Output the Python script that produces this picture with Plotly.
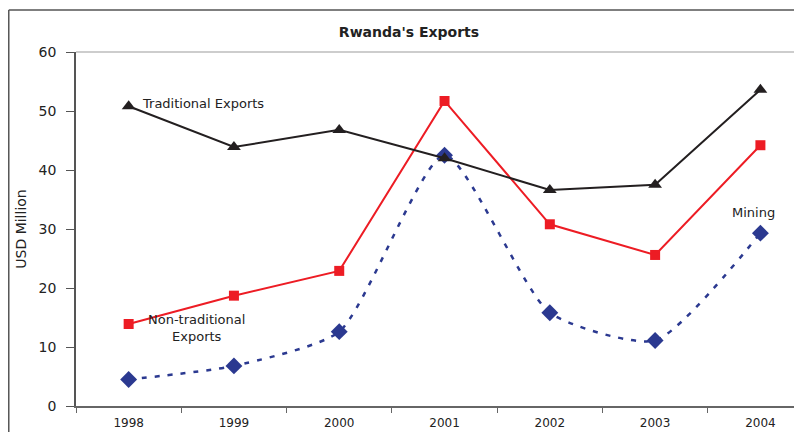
import plotly.graph_objects as go

years = ["1998", "1999", "2000", "2001", "2002", "2003", "2004"]
traditional = [50.8, 43.9, 46.8, 42.0, 36.6, 37.5, 53.6]
non_traditional = [13.9, 18.7, 22.9, 51.7, 30.8, 25.6, 44.2]
mining = [4.5, 6.8, 12.6, 42.5, 15.8, 11.1, 29.3]
y_ticks = [0, 10, 20, 30, 40, 50, 60]

FONT = "Liberation Sans, Arial, sans-serif"
WIDE = "DejaVu Sans, sans-serif"

fig = go.Figure()
fig.add_trace(go.Scatter(
    x=years, y=mining, mode="lines+markers", name="Mining",
    line=dict(color="#2B3990", width=2.5, dash="5px,8px", shape="spline", smoothing=0.6),
    marker=dict(symbol="diamond", size=13, color="#2B3990"),
))
fig.add_trace(go.Scatter(
    x=years, y=non_traditional, mode="lines+markers", name="Non-traditional Exports",
    line=dict(color="#ED1C24", width=2),
    marker=dict(symbol="square", size=10, color="#ED1C24"),
))
fig.add_trace(go.Scatter(
    x=years, y=traditional, mode="lines+markers", name="Traditional Exports",
    line=dict(color="#231F20", width=2),
    marker=dict(symbol="triangle-up", size=12, color="#231F20"),
))

fig.update_layout(
    width=802, height=432,
    margin=dict(l=68, r=8, t=44, b=34, autoexpand=False),
    paper_bgcolor="white", plot_bgcolor="white",
    showlegend=False,
    font=dict(family=FONT, color="#222"),
    title=dict(text="<b>Rwanda's Exports</b>", x=0.5, xanchor="center",
               y=0.945, yanchor="middle", automargin=False,
               font=dict(size=14, family=WIDE, color="#222")),
    xaxis=dict(
        type="category", range=[-0.5, 6.395], automargin=False,
        tickson="boundaries", ticks="outside", ticklen=5, tickcolor="#666",
        ticklabelstandoff=5,
        showline=True, linecolor="#666", linewidth=1.5,
        showgrid=False, zeroline=False,
        tickfont=dict(size=12, family=WIDE, color="#222"),
    ),
    yaxis=dict(
        range=[0, 60], tickvals=y_ticks, ticks="outside", ticklen=8, tickcolor="#555",
        ticklabelstandoff=7,
        showline=True, linecolor="#555", linewidth=1.5, automargin=False,
        showgrid=False, zeroline=False,
        tickfont=dict(size=14, family=WIDE, color="#222"),
        title=dict(text="USD Million", font=dict(size=14, family=WIDE, color="#222"), standoff=9),
    ),
    shapes=[
        dict(type="line", xref="paper", yref="paper", x0=0, x1=1.0, y0=1, y1=1,
             line=dict(color="#BDBDBD", width=1.5)),
        dict(type="line", xref="paper", yref="paper", x0=-0.0926, x1=1.0, y0=1.1186, y1=1.1186,
             line=dict(color="#555", width=1.5)),
        dict(type="line", xref="paper", yref="paper", x0=-0.0926, x1=-0.0926, y0=1.1186, y1=-0.2,
             line=dict(color="#555", width=1.5)),
    ],
    annotations=[
        dict(text="Traditional Exports", x=0.11, y=51.3, xref="x", yref="y",
             xanchor="left", yanchor="middle", showarrow=False,
             font=dict(size=13, family=WIDE, color="#222")),
        dict(text="Non-traditional<br>Exports", x=0.64, y=13.2, xref="x", yref="y",
             xanchor="center", yanchor="middle", showarrow=False,
             font=dict(size=13, family=WIDE, color="#222")),
        dict(text="Mining", x=5.93, y=32.8, xref="x", yref="y",
             xanchor="center", yanchor="middle", showarrow=False,
             font=dict(size=13, family=WIDE, color="#222")),
    ],
)

fig.write_html("out.html")
